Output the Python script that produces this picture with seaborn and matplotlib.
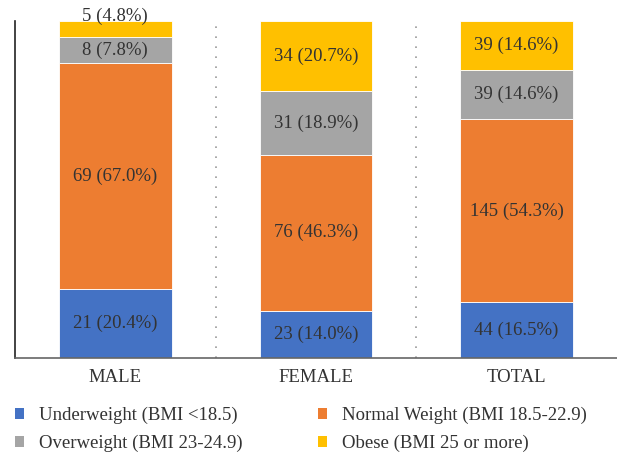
# BMI distribution by gender: 100% stacked bars

import numpy as np
import pandas as pd
import seaborn as sns
import matplotlib.pyplot as plt
from matplotlib.patches import Patch

sns.set_style('white')
plt.rcParams['font.family'] = ['Liberation Serif', 'DejaVu Serif']

groups = ['MALE', 'FEMALE', 'TOTAL']
categories = ['Underweight (BMI <18.5)', 'Normal Weight (BMI 18.5-22.9)',
              'Overweight (BMI 23-24.9)', 'Obese (BMI 25 or more)']
colors = ['#4472C4', '#ED7D31', '#A5A5A5', '#FFC000']

underweight_n = [21, 23, 44]
normal_n = [69, 76, 145]
overweight_n = [8, 31, 39]
obese_n = [5, 34, 39]

underweight_pct = [20.4, 14.0, 16.5]
normal_pct = [67.0, 46.3, 54.3]
overweight_pct = [7.8, 18.9, 14.6]
obese_pct = [4.8, 20.7, 14.6]

counts = [underweight_n, normal_n, overweight_n, obese_n]
pcts = [underweight_pct, normal_pct, overweight_pct, obese_pct]

fig = plt.figure(figsize=(6.17, 4.53), dpi=100)
ax = fig.add_axes([15 / 617, 1 - 358 / 453, 1 - 15 / 617, (358 - 21) / 453])

bottom = np.zeros(len(groups))
for cat, col, n, p in zip(categories, colors, counts, pcts):
    df = pd.DataFrame({'group': groups, 'pct': p})
    sns.barplot(data=df, x='group', y='pct', order=groups, color=col,
                saturation=1, bottom=bottom, width=0.56, edgecolor='white',
                linewidth=0.6, ax=ax)
    for i in range(len(groups)):
        mid = bottom[i] + p[i] / 2
        if p[i] < 6:
            mid = bottom[i] + p[i] + 1.5  # small segment: label sits on top
        ax.text(i, mid, f'{n[i]} ({p[i]:.1f}%)', ha='center', va='center',
                fontsize=13.5, color='#333333')
    bottom = bottom + np.array(p)

# dotted separators between the groups
for xs in [0.5, 1.5]:
    ax.axvline(xs, color='#9a9a9a', linestyle=(0, (1, 5)), lw=1.2)

ax.set_xlim(-0.5, 2.5)
ax.set_ylim(0, 100)
ax.set_yticks([])
ax.set_xlabel('')
ax.set_ylabel('')
ax.tick_params(axis='x', length=0, labelsize=13.5, labelcolor='#333333', pad=8)
for s in ['top', 'right']:
    ax.spines[s].set_visible(False)
ax.spines['left'].set_color('#222222')
ax.spines['left'].set_linewidth(1.2)
ax.spines['bottom'].set_color('#666666')
ax.spines['bottom'].set_linewidth(1.2)

# legend fills column-wise, so order gives rows: Under/Normal, Over/Obese
order = [0, 2, 1, 3]
handles = [Patch(facecolor=colors[k], edgecolor='none') for k in order]
labels = [categories[k] for k in order]
fig.legend(handles, labels, ncol=2, loc='upper left',
           bbox_to_anchor=(15 / 617, 1 - 407 / 453), frameon=False,
           borderpad=0, borderaxespad=0,
           fontsize=13.5, labelcolor='#333333', handlelength=0.5,
           handleheight=0.5, handletextpad=0.8, columnspacing=4.0,
           labelspacing=0.55)

fig.savefig('out.png', dpi=100)
